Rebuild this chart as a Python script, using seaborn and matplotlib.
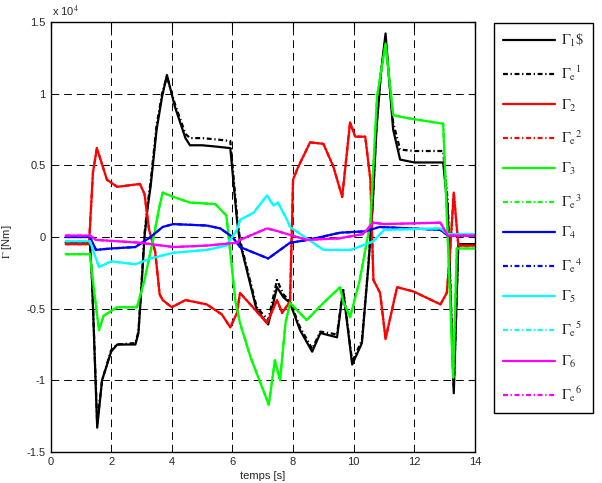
import numpy as np
import pandas as pd
import seaborn as sns
import matplotlib
matplotlib.use('Agg')
from matplotlib import pyplot as plt
from matplotlib.ticker import FormatStrFormatter

# torques, in units of 1e4 Nm
t1 = [0.5, 1.3, 1.37, 1.54, 1.7, 2.0, 2.2, 2.8, 2.9, 3.0, 3.1, 3.2, 3.3, 3.5, 3.68, 3.84, 4.1, 4.45, 4.6,
      5.0, 5.5, 5.93, 6.15, 6.25, 6.8, 7.18, 7.47, 7.68, 7.9, 8.23, 8.63, 8.9, 9.45, 9.65, 9.95, 10.27,
      10.48, 10.62, 10.75, 10.9, 11.05, 11.3, 11.53, 12.0, 12.5, 12.95, 13.1, 13.3, 13.45, 14.0]
g1 = [-0.04, -0.04, -0.3, -1.33, -1.0, -0.80, -0.75, -0.75, -0.67, -0.35, 0.0, 0.2, 0.35, 0.75, 0.98, 1.13,
      0.91, 0.69, 0.64, 0.64, 0.63, 0.62, 0.12, -0.04, -0.51, -0.61, -0.35, -0.42, -0.46, -0.65, -0.80,
      -0.67, -0.70, -0.37, -0.89, -0.74, -0.21, 0.2, 0.75, 1.15, 1.42, 0.75, 0.54, 0.52, 0.52, 0.52, 0.2,
      -1.09, -0.05, -0.05]
ge1 = [-0.04, -0.04, -0.3, -1.30, -1.0, -0.79, -0.75, -0.74, -0.66, -0.33, 0.02, 0.22, 0.38, 0.78, 1.0, 1.12,
       0.93, 0.72, 0.69, 0.69, 0.68, 0.67, 0.15, -0.02, -0.49, -0.58, -0.30, -0.40, -0.45, -0.63, -0.78,
       -0.66, -0.68, -0.36, -0.87, -0.72, -0.20, 0.22, 0.78, 1.15, 1.38, 0.8, 0.61, 0.60, 0.60, 0.60, 0.25,
       -1.05, -0.05, -0.05]

t2 = [0.5, 1.27, 1.4, 1.53, 1.86, 2.2, 2.95, 3.1, 3.25, 3.45, 3.6, 3.7, 4.0, 4.45, 5.15, 5.65, 5.93, 6.15,
      6.25, 7.14, 7.47, 7.64, 7.9, 8.0, 8.15, 8.56, 9.0, 9.33, 9.62, 9.88, 10.05, 10.38, 10.55, 10.65,
      10.87, 11.05, 11.43, 11.97, 12.86, 13.07, 13.18, 13.3, 13.45, 14.0]
g2 = [-0.05, -0.05, 0.45, 0.62, 0.40, 0.35, 0.37, 0.3, 0.05, -0.1, -0.4, -0.44, -0.49, -0.44, -0.47, -0.54,
      -0.63, -0.53, -0.39, -0.60, -0.44, -0.53, -0.45, 0.4, 0.48, 0.66, 0.65, 0.49, 0.28, 0.8, 0.70, 0.70,
      0.4, -0.30, -0.39, -0.71, -0.35, -0.38, -0.47, -0.39, -0.1, 0.31, -0.06, -0.06]

t3 = [0.5, 1.3, 1.45, 1.6, 1.75, 2.2, 2.85, 3.1, 3.4, 3.6, 3.7, 4.05, 4.6, 5.43, 5.8, 5.95, 6.1, 6.25, 6.6,
      7.2, 7.4, 7.57, 7.75, 7.9, 8.45, 9.0, 9.55, 9.65, 9.88, 10.2, 10.55, 10.77, 11.05, 11.3, 11.76,
      12.95, 13.1, 13.28, 13.4, 14.0]
g3 = [-0.12, -0.12, -0.4, -0.65, -0.55, -0.49, -0.49, -0.3, 0.0, 0.22, 0.31, 0.28, 0.24, 0.23, 0.15, -0.15,
      -0.45, -0.6, -0.84, -1.17, -0.86, -1.0, -0.6, -0.46, -0.58, -0.46, -0.35, -0.45, -0.56, -0.3, 0.1,
      0.98, 1.35, 0.85, 0.83, 0.79, 0.0, -0.98, -0.08, -0.08]

t4 = [0.5, 1.3, 1.5, 2.0, 2.8, 3.3, 3.7, 4.05, 5.15, 5.6, 6.0, 6.25, 7.18, 7.9, 8.5, 9.55, 10.4, 10.85,
      12.86, 13.1, 14.0]
g4 = [0.0, 0.0, -0.09, -0.08, -0.07, 0.0, 0.07, 0.09, 0.08, 0.06, 0.0, -0.07, -0.15, -0.04, -0.02, 0.03,
      0.04, 0.07, 0.05, 0.01, 0.01]

t5 = [0.5, 1.3, 1.6, 2.0, 2.8, 3.3, 4.05, 5.15, 5.8, 6.15, 6.25, 6.7, 7.14, 7.35, 7.5, 7.8, 7.9, 9.0, 9.9,
      10.65, 11.0, 12.86, 13.1, 14.0]
g5 = [-0.03, -0.03, -0.21, -0.17, -0.19, -0.15, -0.11, -0.09, -0.06, 0.05, 0.12, 0.17, 0.29, 0.22, 0.24,
      0.12, 0.07, -0.09, -0.09, -0.03, 0.05, 0.06, 0.02, 0.02]

t6 = [0.5, 1.3, 1.5, 2.95, 4.05, 5.15, 6.15, 6.25, 7.14, 7.5, 8.45, 9.5, 10.3, 10.65, 11.0, 12.86, 13.1, 14.0]
g6 = [0.01, 0.01, -0.02, -0.04, -0.07, -0.06, -0.04, -0.02, 0.06, 0.04, -0.02, -0.01, 0.02, 0.10, 0.09,
      0.10, 0.01, 0.01]

# estimates 2..6 lie on top of the measured curves
series = [
    (r'$\Gamma_1\$$', t1, g1, 'k', '-'),
    (r'$\Gamma_\mathrm{e}{}^1$', t1, ge1, 'k', '-.'),
    (r'$\Gamma_2$', t2, g2, '#ff0000', '-'),
    (r'$\Gamma_\mathrm{e}{}^2$', t2, g2, '#ff0000', '-.'),
    (r'$\Gamma_3$', t3, g3, '#00ff00', '-'),
    (r'$\Gamma_\mathrm{e}{}^3$', t3, g3, '#00ff00', '-.'),
    (r'$\Gamma_4$', t4, g4, '#0000ff', '-'),
    (r'$\Gamma_\mathrm{e}{}^4$', t4, g4, '#0000ff', '-.'),
    (r'$\Gamma_5$', t5, g5, '#00ffff', '-'),
    (r'$\Gamma_\mathrm{e}{}^5$', t5, g5, '#00ffff', '-.'),
    (r'$\Gamma_6$', t6, g6, '#ff00ff', '-'),
    (r'$\Gamma_\mathrm{e}{}^6$', t6, g6, '#ff00ff', '-.'),
]

sns.set_style('white')
plt.rcParams['font.family'] = ['Liberation Sans', 'DejaVu Sans']
plt.rcParams['mathtext.fontset'] = 'stix'

fig = plt.figure(figsize=(6.02, 4.83), dpi=100)
ax = fig.add_axes([50.5 / 602, 1 - 452 / 483, (475 - 50.5) / 602, 430 / 483])

for name, t, g, col, ls in series:
    d = pd.DataFrame({'t': t, 'g': g})
    dash = (0, (2.2, 1.2, 0.6, 1.2)) if ls == '-.' else '-'
    sns.lineplot(data=d, x='t', y='g', ax=ax, color=col, linestyle=dash, lw=1.6, sort=False, label=name)

ax.set_xlim(0, 14)
ax.set_ylim(-1.5, 1.5)
ax.set_xticks(range(0, 15, 2))
ax.set_yticks([-1.5, -1, -0.5, 0, 0.5, 1, 1.5])
ax.yaxis.set_major_formatter(FormatStrFormatter('%g'))
ax.tick_params(direction='in', length=4, width=0.8, top=True, right=True, labelsize=8, color='k')
ax.grid(True, color='k', linestyle=(0, (8, 5)), linewidth=0.7)
for s in ax.spines.values():
    s.set_color('k')
    s.set_linewidth(1.0)
ax.set_xlabel('')
ax.set_ylabel('')

fig.text(263 / 602, 1 - 476 / 483, 'temps [s]', ha='center', va='center', fontsize=8)
fig.text(7 / 602, 0.5, r'$\Gamma$ [Nm]', ha='center', va='center', rotation=90, fontsize=8)
fig.text(52 / 602, 1 - 11 / 483, r'x 10$^4$', ha='left', va='center', fontsize=8)

leg = ax.legend(loc='upper left', bbox_to_anchor=(494 / 602, 1 - 23 / 483), bbox_transform=fig.transFigure,
                fontsize=10.5, handlelength=3.6, labelspacing=1.0, borderaxespad=0, fancybox=False,
                framealpha=1, edgecolor='k', borderpad=0.6, handletextpad=0.4)
leg.get_frame().set_linewidth(1.0)

fig.savefig('out.png', dpi=100)
